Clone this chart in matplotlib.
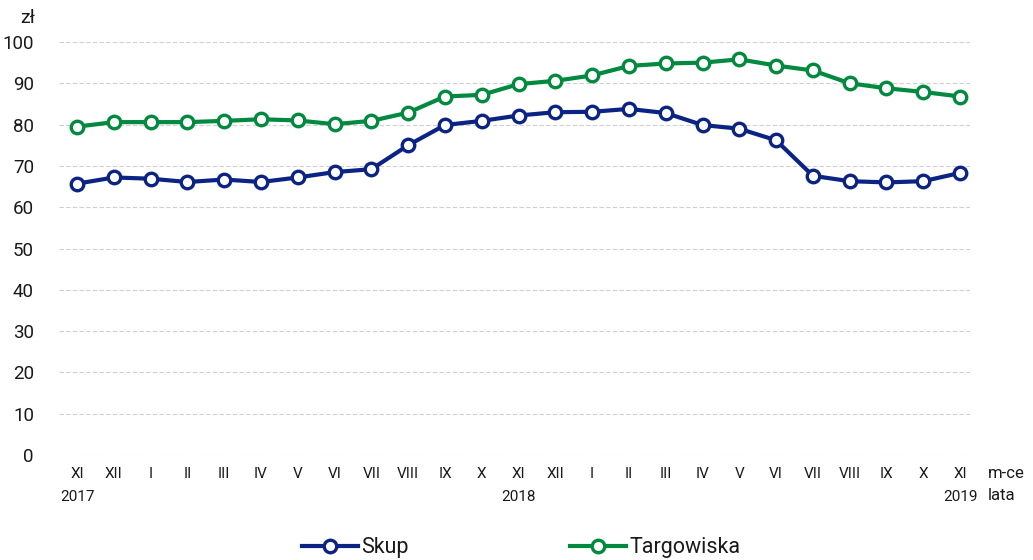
import matplotlib.pyplot as plt

months = ["XI", "XII", "I", "II", "III", "IV", "V", "VI", "VII", "VIII", "IX", "X",
          "XI", "XII", "I", "II", "III", "IV", "V", "VI", "VII", "VIII", "IX", "X", "XI"]
years = {0: "2017", 12: "2018", 24: "2019"}

skup = [65.7, 67.2, 66.9, 66.1, 66.7, 66.1, 67.2, 68.5, 69.2, 75.0, 79.9, 80.9,
        82.2, 83.0, 83.1, 83.8, 82.8, 79.9, 79.0, 76.2, 67.6, 66.3, 66.0, 66.3, 68.3]
targowiska = [79.5, 80.6, 80.6, 80.6, 80.9, 81.3, 81.0, 80.1, 80.9, 82.9, 86.8, 87.2,
              89.8, 90.6, 91.9, 94.2, 94.8, 95.0, 95.8, 94.3, 93.1, 90.0, 88.8, 87.9, 86.8]

NAVY = "#0b2382"
GREEN = "#00893f"
TEXT = "#1a1a1a"

plt.rcParams['font.family'] = ['Roboto', 'DejaVu Sans']
plt.rcParams['text.color'] = TEXT

fig = plt.figure(figsize=(10.33, 5.6), dpi=100)
ax = fig.add_axes([59 / 1033, 1 - 455 / 560, (970 - 59) / 1033, (455 - 42) / 560])

x = list(range(len(months)))
style = dict(lw=3, marker='o', markersize=9, markerfacecolor='white', markeredgewidth=2.4)
ax.plot(x, skup, color=NAVY, label="Skup", **style)
ax.plot(x, targowiska, color=GREEN, label="Targowiska", **style)

ax.set_ylim(0, 100)
ax.set_xlim(-0.49, 24.27)
ax.set_yticks(range(0, 101, 10))
ax.set_xticks(x)
ax.set_xticklabels(months, fontsize=11)
ax.tick_params(axis='both', length=0, labelcolor=TEXT)
ax.tick_params(axis='y', labelsize=13.5, pad=18)
ax.tick_params(axis='x', pad=9)
ax.grid(axis='y', color='#d0d0d0', linestyle=(0, (4, 2)), lw=0.8)
ax.set_axisbelow(True)
for s in ax.spines.values():
    s.set_visible(False)

for i, yr in years.items():
    ax.text(i, -10.1, yr, ha='center', va='center', fontsize=11,
            transform=ax.transData, clip_on=False)

fig.text(20 / 1033, 1 - 18 / 560, "zł", fontsize=14, ha='left', va='center')
fig.text(988 / 1033, 1 - 474 / 560, "m-ce", fontsize=12, ha='left', va='center')
fig.text(988 / 1033, 1 - 496 / 560, "lata", fontsize=12, ha='left', va='center')

fig.legend(loc='center', bbox_to_anchor=(521 / 1033, 1 - 548 / 560), ncol=2,
           frameon=False, fontsize=15.5, handlelength=2.6, columnspacing=7.5,
           handletextpad=0.15)

fig.savefig("out.png", dpi=100)
